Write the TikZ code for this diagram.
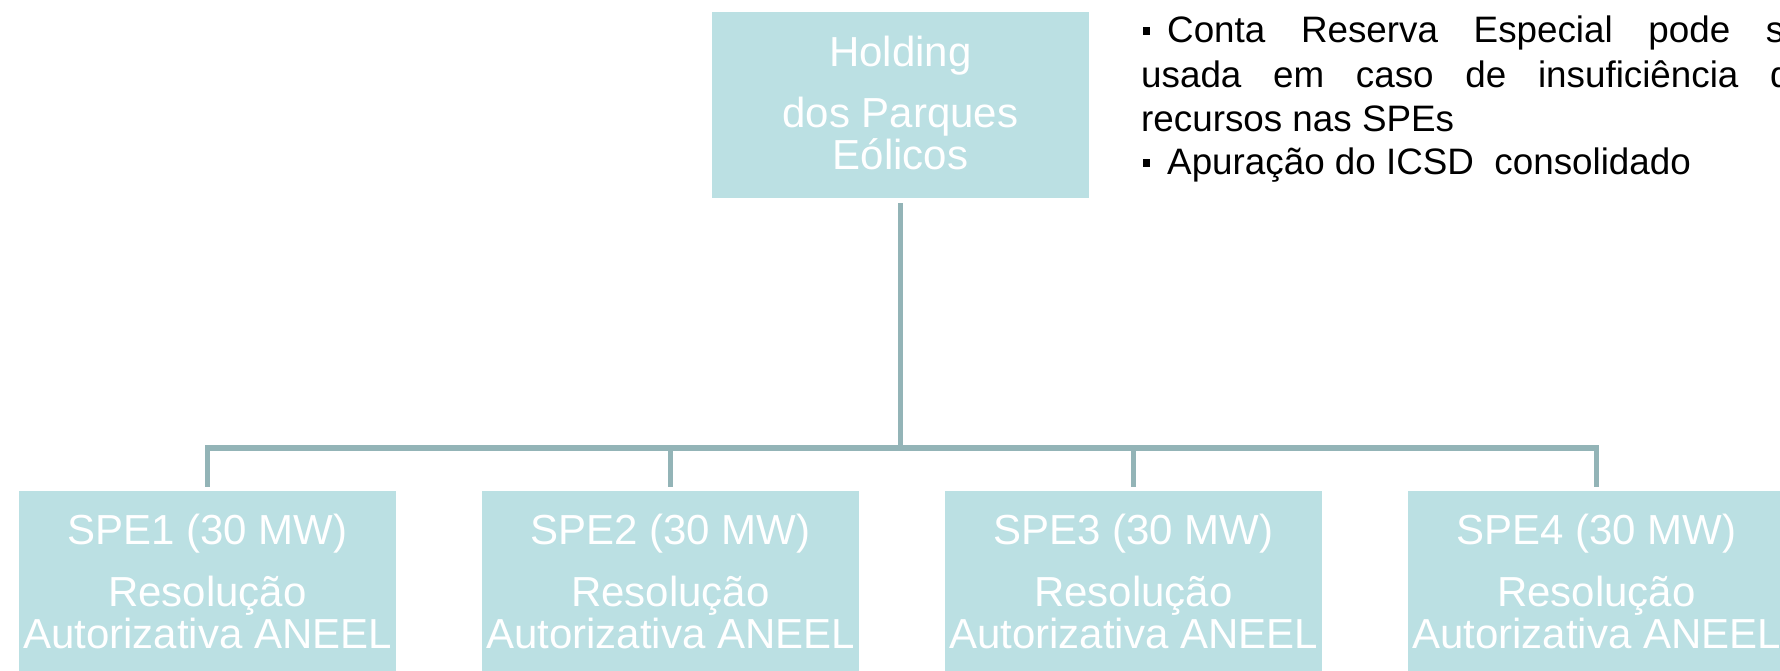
\documentclass[tikz,border=0pt]{standalone}
\usepackage{fontspec}
\setmainfont{Liberation Sans}
\definecolor{boxfill}{HTML}{BBE0E3}
\definecolor{conncol}{HTML}{93B4B7}
\begin{document}
\begin{tikzpicture}[x=1pt,y=-1pt,
  box/.style={fill=boxfill, draw=none, minimum width=377pt, minimum height=186pt, inner sep=0pt},
  boxtxt/.style={text=white, font=\fontsize{42pt}{50pt}\selectfont, inner sep=0pt, anchor=base},
  conn/.style={draw=conncol, line width=5.5pt},
  bodytxt/.style={text=black, font=\fontsize{36.8pt}{44pt}\selectfont, inner sep=0pt, anchor=base west},
  bul/.style={fill=black, minimum size=7.5pt, inner sep=0pt}]
\useasboundingbox (0,0) rectangle (1780,671);
\clip (0,0) rectangle (1780,671);
% top box
\node[box] (h) at (900.5,105) {};
\node[boxtxt] (h1) at (900.5,67) {Holding};
\node[boxtxt] (h2) at (900.5,128) {dos Parques};
\node[boxtxt] (h3) at (900.5,170) {Eólicos};
% bottom boxes
\foreach \i/\x in {1/207.5,2/670.5,3/1133.5,4/1596.5}{
  \node[box] (s\i) at (\x,584) {};
  \node[boxtxt] (s\i a) at (\x,544) {SPE\i\ (30 MW)};
  \node[boxtxt] (s\i b) at (\x,606) {Resolução};
  \node[boxtxt] (s\i c) at (\x,648) {Autorizativa ANEEL};
}
% connectors
\coordinate (bar) at (900.5,448);
\draw[conn] ([yshift=-5pt]h.south) -- (bar);
\draw[conn, line join=miter] ([yshift=4pt]s1.north) |- (bar) -| ([yshift=4pt]s4.north);
\draw[conn] ([yshift=4pt]s2.north) -- (s2.north |- bar);
\draw[conn] ([yshift=4pt]s3.north) -- (s3.north |- bar);
% notes
\node[bul] (b1) at (1146.5,31) {};
\node[bodytxt] (t1) at (1167,43) {\hbox to 650pt{Conta\hfill Reserva\hfill Especial\hfill pode\hfill ser}};
\node[bodytxt] (t2) at (1141,88) {\hbox to 670pt{usada\hfill em\hfill caso\hfill de\hfill insuficiência\hfill de}};
\node[bodytxt] (t3) at (1141,132) {recursos nas SPEs};
\node[bul] (b2) at (1146.5,163) {};
\node[bodytxt] (t4) at (1167,175) {Apuração do ICSD\ \ consolidado};
\end{tikzpicture}
\end{document}
